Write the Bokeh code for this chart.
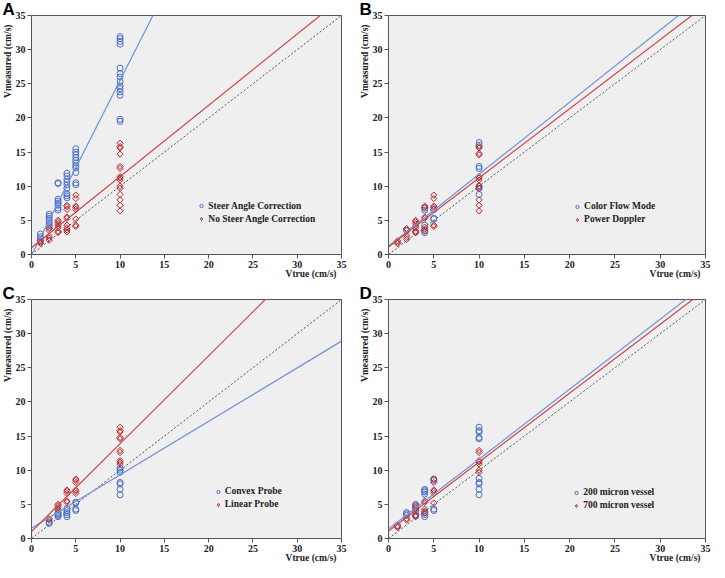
import math
from bokeh.plotting import figure
from bokeh.layouts import row, column
from bokeh.models import Range1d, FixedTicker, Legend, LegendItem, Title
from bokeh.embed import file_html
from bokeh.resources import INLINE

# ---------------- data ----------------
TICKS = [0, 5, 10, 15, 20, 25, 30, 35]
X_TITLE = "Vtrue (cm/s)"
Y_TITLE = "Vmeasured (cm/s)"

# Panel A
A_names = ["Steer Angle Correction", "No Steer Angle Correction"]
A_blue = {1: [2.0, 2.3, 2.6, 3.0],
          2: [4.0, 4.3, 4.6, 5.0, 5.3, 5.6, 5.9],
          3: [6.5, 6.8, 7.2, 7.5, 7.8, 8.1, 10.4, 10.5],
          4: [8.3, 8.6, 8.9, 9.7, 10.2, 10.6, 11.0, 11.5, 11.9],
          5: [10.2, 10.5, 12.0, 12.7, 13.0, 13.4, 13.8, 14.2, 14.6, 15.0, 15.5],
          10: [19.5, 19.8, 23.3, 23.8, 24.3, 24.7, 25.3, 26.0, 26.5, 27.3, 30.8, 31.2, 31.6, 31.9]}
A_red = {1: [1.6, 1.8, 2.0],
         2: [2.1, 2.4, 2.7, 3.5, 3.8],
         3: [3.2, 3.4, 3.9, 4.2, 4.5, 4.8, 5.0],
         4: [3.3, 3.6, 3.9, 4.3, 5.3, 5.5, 6.6, 7.0, 7.2],
         5: [4.1, 4.3, 5.2, 6.6, 6.9, 7.1, 8.2, 8.7],
         10: [6.4, 7.2, 8.0, 8.8, 9.7, 10.0, 10.9, 11.2, 11.4, 12.6, 12.9, 14.7, 15.6, 15.8, 16.3]}
A_blue_fit = (-0.1, 2.56)   # intercept, slope
A_red_fit = (1.0, 1.043)

# Panel B
B_names = ["Color Flow Mode", "Power Doppler"]
B_blue = {2: [3.5],
          3: [3.3],
          4: [3.2, 3.5, 4.3, 6.5, 6.8],
          5: [5.2, 5.3, 6.6],
          10: [8.8, 9.7, 10.0, 12.6, 12.9, 16.0, 16.4]}
B_red = {1: [1.6, 1.8, 2.0],
         2: [2.2, 2.5, 2.8, 3.6, 3.8],
         3: [3.2, 3.4, 3.9, 4.2, 4.5, 4.8, 5.0],
         4: [3.4, 3.7, 4.0, 5.3, 5.5, 6.9, 7.1],
         5: [4.1, 4.3, 6.6, 6.9, 7.1, 8.2, 8.7],
         10: [6.4, 7.2, 8.0, 9.7, 10.0, 10.9, 11.2, 11.4, 14.6, 14.8, 15.6, 15.8]}
B_blue_fit = (1.2, 1.056)
B_red_fit = (1.1, 1.012)

# Panel C
C_names = ["Convex Probe", "Linear Probe"]
C_blue = {2: [2.2, 2.4],
          3: [3.2, 3.4, 3.6, 3.8],
          4: [3.2, 3.5, 3.8, 4.1, 4.4],
          5: [4.1, 4.3, 5.2, 5.3],
          10: [6.4, 7.2, 8.0, 8.2, 9.7, 10.0, 10.3]}
C_red = {2: [2.7, 2.9],
         3: [4.2, 4.5, 4.8, 5.0],
         4: [5.3, 5.5, 6.6, 6.9, 7.1],
         5: [6.6, 6.9, 7.1, 8.2, 8.5, 8.7],
         10: [10.9, 11.2, 11.4, 12.6, 12.9, 14.6, 14.8, 15.6, 15.8, 16.3]}
C_blue_fit = (1.5, 0.783)
C_red_fit = (1.0, 1.288)

# Panel D
D_names = ["200 micron vessel", "700 micron vessel"]
D_blue = {1: [1.9],
          2: [3.4, 3.6, 3.8],
          3: [3.3, 3.5, 4.0, 4.5, 4.8, 5.0],
          4: [3.2, 3.5, 3.8, 6.5, 6.8, 7.0, 7.2],
          5: [4.1, 4.3, 8.5, 8.7],
          10: [6.4, 7.2, 8.0, 8.2, 8.8, 14.6, 14.8, 15.6, 15.8, 16.3]}
D_red = {1: [1.6, 1.8],
         2: [2.7, 2.9],
         3: [3.2, 3.4, 4.2, 4.5, 4.8],
         4: [3.7, 4.0, 4.3, 5.3, 5.5],
         5: [5.2, 6.6, 6.9, 7.1, 8.2, 8.7],
         10: [9.7, 10.0, 10.9, 11.2, 11.4, 12.6, 12.9]}
D_blue_fit = (1.4, 1.024)
D_red_fit = (1.1, 1.009)

# ---------------- styling ----------------
SERIF = "Liberation Serif"
SANS = "Liberation Sans"
BLUE_M = "#4a6fc8"
BLUE_L = "#7091d8"
RED_M = "#b8262b"
RED_L = "#cc4646"
FRAME_BG = "#efefef"
INK = "#222222"


def flat(d):
    xs = [x for x, ys in d.items() for _ in ys]
    ys = [y for _, yl in d.items() for y in yl]
    return xs, ys


def panel(letter, names, blue, red, bfit, rfit, fw, fh, bl, br, bt, bb, leg_gx, leg_gy):
    p = figure(frame_width=fw, frame_height=fh, min_border_left=bl, min_border_right=br,
               min_border_top=bt, min_border_bottom=bb,
               x_range=Range1d(0, 35), y_range=Range1d(0, 35),
               output_backend="svg", toolbar_location=None,
               background_fill_color=FRAME_BG, border_fill_color="white",
               outline_line_color="#555555", outline_line_width=1)
    p.grid.visible = False
    for ax in (p.xaxis[0], p.yaxis[0]):
        ax.ticker = FixedTicker(ticks=TICKS)
        ax.minor_tick_line_color = None
        ax.major_tick_in = 0
        ax.major_tick_out = 4
        ax.major_tick_line_color = "#555555"
        ax.axis_line_color = None
        ax.major_label_text_font = SERIF
        ax.major_label_text_font_style = "bold"
        ax.major_label_text_font_size = "10px"
        ax.major_label_text_color = INK
        ax.major_label_standoff = 2

    # identity line
    p.line([0, 35], [0, 35], line_color="#555555", line_width=1, line_dash="2 2")

    bx, by = flat(blue)
    rx, ry = flat(red)
    p.scatter(bx, by, marker="circle", size=6, fill_alpha=0,
              line_color=BLUE_M, line_width=1)
    p.scatter(rx, ry, marker="square", size=4.4, angle=math.pi / 4, fill_alpha=0,
              line_color=RED_M, line_width=1)
    # legend-only glyphs (smaller), placed outside the visible range
    rb_leg = p.scatter([-10], [-10], marker="circle", size=4.5, fill_alpha=0,
                       line_color=BLUE_M, line_width=1)
    rr_leg = p.scatter([-10], [-10], marker="diamond", size=6, fill_alpha=0,
                       line_color=RED_M, line_width=1)

    for (b0, m), col in ((bfit, BLUE_L), (rfit, RED_L)):
        p.line([0, 35], [b0, b0 + m * 35], line_color=col, line_width=1.2)

    # legend
    gw, pad, rh = 8, 2, 13
    gx_px = leg_gx / 35.0 * fw
    gy_px = leg_gy / 35.0 * fh
    leg = Legend(items=[LegendItem(label=names[0], renderers=[rb_leg]),
                        LegendItem(label=names[1], renderers=[rr_leg])],
                 location=(gx_px - gw / 2 - pad, gy_px - rh / 2 - pad),
                 padding=pad, margin=0, spacing=0,
                 glyph_width=gw, glyph_height=rh, label_height=rh, label_standoff=3,
                 label_text_font=SERIF, label_text_font_style="bold",
                 label_text_font_size="9.5px", label_text_color=INK,
                 background_fill_alpha=0, border_line_color=None)
    p.add_layout(leg, "center")

    # panel letter (top-left, outside the frame)
    p.add_layout(Title(text=letter, align="left", offset=-(bl - 1), standoff=-6,
                       text_font=SANS, text_font_style="bold",
                       text_font_size="17px", text_color="black"), "above")
    # axis titles
    p.add_layout(Title(text=X_TITLE, align="right", offset=5, standoff=-4,
                       vertical_align="top",
                       text_font=SERIF, text_font_style="bold",
                       text_font_size="9.5px", text_color=INK), "below")
    p.add_layout(Title(text=Y_TITLE, align="right", offset=9, standoff=0,
                       text_font=SERIF, text_font_style="bold",
                       text_font_size="9.5px", text_color=INK), "left")
    return p


pA = panel("A", A_names, A_blue, A_red, A_blue_fit, A_red_fit,
           310, 239, 30, 16, 8, 30, 19.45, 5.42)
pB = panel("B", B_names, B_blue, B_red, B_blue_fit, B_red_fit,
           317, 239, 30, 6, 8, 30, 21.1, 5.37)
pC = panel("C", C_names, C_blue, C_red, C_blue_fit, C_red_fit,
           310, 239, 30, 16, 8, 30, 21.3, 5.23)
pD = panel("D", D_names, D_blue, D_red, D_blue_fit, D_red_fit,
           317, 239, 30, 6, 8, 30, 21.0, 5.09)

layout = column(row(pA, pB), row(pC, pD))
open("out.html", "w").write(file_html(layout, INLINE))
